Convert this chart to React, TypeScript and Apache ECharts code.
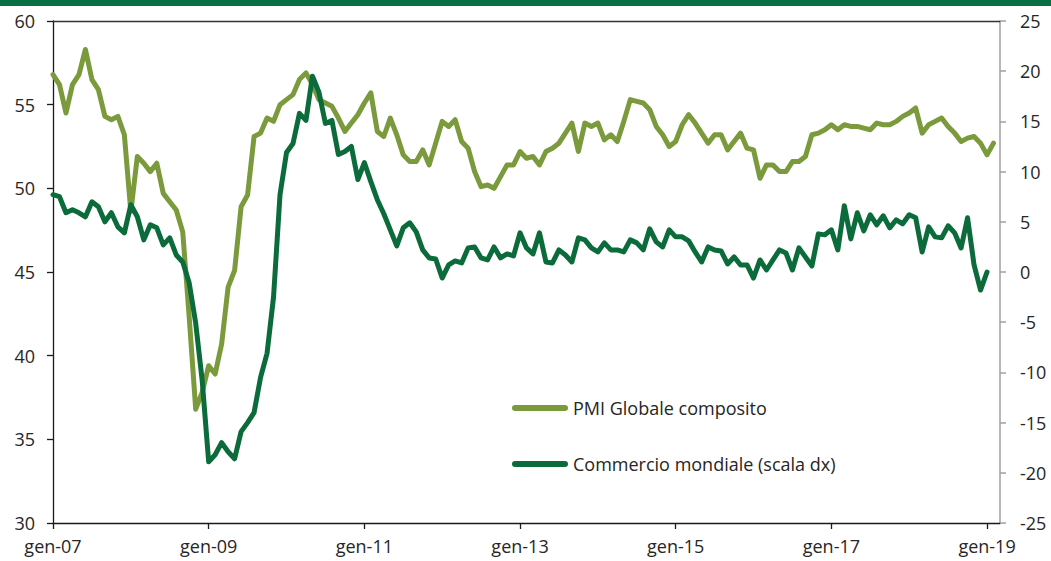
import React, { useEffect, useRef } from "react";
import * as echarts from "echarts";

const monthNames = ["gen", "feb", "mar", "apr", "mag", "giu", "lug", "ago", "set", "ott", "nov", "dic"];
const startYear = 2007;
const monthCount = 147; // gen-07 .. mar-19

const categories: string[] = [];
for (let i = 0; i < monthCount; i++) {
  const y = startYear + Math.floor(i / 12);
  categories.push(monthNames[i % 12] + "-" + String(y % 100).padStart(2, "0"));
}

const seriesNames = ["PMI Globale composito", "Commercio mondiale (scala dx)"];

const pmiComposite = [
  56.8, 56.2, 54.5, 56.2, 56.8, 58.3, 56.5, 55.9, 54.3, 54.1, 54.3, 53.2,
  48.6, 51.9, 51.5, 51.0, 51.5, 49.7, 49.2, 48.7, 47.4, 42.3, 36.8, 37.8,
  39.4, 38.9, 40.7, 44.1, 45.1, 48.9, 49.6, 53.1, 53.3, 54.2, 54.0, 55.0,
  55.3, 55.6, 56.5, 56.9, 56.2, 55.3, 55.1, 54.9, 54.2, 53.4, 53.9, 54.4,
  55.1, 55.7, 53.4, 53.1, 54.2, 53.2, 52.0, 51.6, 51.6, 52.3, 51.4, 52.7,
  54.0, 53.7, 54.1, 52.8, 52.4, 51.0, 50.1, 50.2, 50.0, 50.7, 51.4, 51.4,
  52.2, 51.8, 51.9, 51.4, 52.2, 52.4, 52.7, 53.3, 53.9, 52.2, 53.9, 53.7,
  53.9, 52.9, 53.2, 52.8, 54.0, 55.3, 55.2, 55.1, 54.7, 53.7, 53.2, 52.5,
  52.8, 53.8, 54.4, 53.9, 53.3, 52.7, 53.2, 53.2, 52.3, 52.8, 53.3, 52.4,
  52.3, 50.6, 51.4, 51.4, 51.0, 51.0, 51.6, 51.6, 51.9, 53.2, 53.3, 53.5,
  53.8, 53.5, 53.8, 53.7, 53.7, 53.6, 53.5, 53.9, 53.8, 53.8, 54.0, 54.3,
  54.5, 54.8, 53.3, 53.8, 54.0, 54.2, 53.7, 53.3, 52.8, 53.0, 53.1, 52.7,
  52.0, 52.7,
];

const worldTrade = [
  7.7, 7.5, 5.9, 6.2, 5.9, 5.5, 7.0, 6.5, 5.0, 5.9, 4.5, 3.9,
  6.7, 5.5, 3.2, 4.7, 4.4, 2.7, 3.4, 1.7, 1.0, -1.1, -5.1, -10.8,
  -18.9, -18.2, -17.0, -17.9, -18.6, -15.9, -15.0, -14.0, -10.5, -8.1, -2.5, 7.7,
  11.9, 12.8, 15.8, 15.1, 19.5, 17.9, 14.8, 15.1, 11.7, 12.0, 12.5, 9.2,
  10.9, 9.0, 7.2, 5.8, 4.2, 2.6, 4.4, 4.9, 4.0, 2.2, 1.4, 1.3,
  -0.6, 0.7, 1.1, 0.9, 2.4, 2.5, 1.4, 1.2, 2.5, 1.4, 1.8, 1.6,
  3.9, 2.4, 1.8, 3.9, 1.0, 0.9, 2.2, 1.7, 1.0, 3.4, 3.2, 2.4,
  2.0, 2.9, 2.2, 2.2, 2.0, 3.2, 2.9, 2.2, 4.3, 3.0, 2.5, 4.2,
  3.5, 3.5, 3.1, 2.0, 1.0, 2.5, 2.2, 2.1, 0.8, 1.5, 0.7, 0.7,
  -0.6, 1.2, 0.2, 1.2, 2.2, 1.9, 0.2, 2.4, 1.5, 0.6, 3.8, 3.7,
  4.2, 2.2, 6.6, 3.3, 5.9, 4.1, 5.7, 4.7, 5.6, 4.4, 5.2, 4.8,
  5.7, 5.4, 2.0, 4.5, 3.5, 3.4, 4.6, 3.9, 2.4, 5.4, 0.7, -1.8,
  0.0,
];

const OLIVE = "#7a9a3c";
const DARK = "#0b6b3a";
const FONT = "'Open Sans', 'Noto Sans', sans-serif";
const TEXT = "#262626";

export default function App() {
  const ref = useRef<HTMLDivElement>(null);

  useEffect(() => {
    if (!ref.current) return;
    document.body.style.margin = "0";
    const chart = echarts.init(ref.current, undefined, { renderer: "svg" });
    const everyTwoYears = (idx: number) => idx % 24 === 0;
    const legendIcon = "path://M3 0H53A3 3 0 0 1 53 6H3A3 3 0 0 1 3 0Z";

    chart.setOption({
      animation: false,
      backgroundColor: "#ffffff",
      textStyle: { fontFamily: FONT },
      graphic: [
        {
          type: "rect",
          left: 0,
          top: 0,
          shape: { x: 0, y: 0, width: 1051, height: 6 },
          style: { fill: "#0a6e45" },
          silent: true,
        },
      ],
      grid: { left: 53, right: 51, top: 21, bottom: 38, containLabel: false },
      legend: {
        orient: "vertical",
        left: 507,
        top: 392,
        itemWidth: 56,
        itemHeight: 6,
        itemGap: 34,
        icon: legendIcon,
        textStyle: { fontSize: 18, color: TEXT, fontFamily: FONT, lineHeight: 22 },
        data: [
          { name: seriesNames[0], itemStyle: { color: OLIVE } },
          { name: seriesNames[1], itemStyle: { color: DARK } },
        ],
      },
      xAxis: [
        {
          type: "category",
          data: categories,
          boundaryGap: false,
          position: "bottom",
          axisLine: { show: true, onZero: false, lineStyle: { color: "#1a1a1a", width: 1.3 } },
          axisTick: { show: true, interval: everyTwoYears, length: 6, lineStyle: { color: "#1a1a1a", width: 1.3 } },
          axisLabel: {
            interval: everyTwoYears,
            fontSize: 18,
            color: TEXT,
            fontFamily: FONT,
            margin: 14,
          },
          splitLine: { show: false },
        },
        {
          type: "category",
          data: categories,
          boundaryGap: false,
          position: "top",
          axisLine: { show: true, onZero: false, lineStyle: { color: "#333333", width: 1.3 } },
          axisTick: { show: false },
          axisLabel: { show: false },
          splitLine: { show: false },
        },
      ],
      yAxis: [
        {
          type: "value",
          min: 30,
          max: 60,
          interval: 5,
          position: "left",
          axisLine: { show: true, onZero: false, lineStyle: { color: "#1a1a1a", width: 1.3 } },
          axisTick: { show: true, length: 6, lineStyle: { color: "#1a1a1a", width: 1.3 } },
          axisLabel: { fontSize: 18, color: TEXT, fontFamily: FONT, margin: 18 },
          splitLine: { show: false },
        },
        {
          type: "value",
          min: -25,
          max: 25,
          interval: 5,
          position: "right",
          axisLine: { show: true, onZero: false, lineStyle: { color: "#a0a0a0", width: 1.5 } },
          axisTick: { show: true, length: 6, lineStyle: { color: "#a0a0a0", width: 1.5 } },
          axisLabel: { fontSize: 18, color: TEXT, fontFamily: FONT, margin: 20 },
          splitLine: { show: false },
        },
      ],
      series: [
        {
          name: seriesNames[0],
          type: "line",
          data: pmiComposite,
          xAxisIndex: 0,
          yAxisIndex: 0,
          symbol: "none",
          color: OLIVE,
          lineStyle: { color: OLIVE, width: 5, join: "round", cap: "round" },
          z: 2,
        },
        {
          name: seriesNames[1],
          type: "line",
          data: worldTrade,
          xAxisIndex: 0,
          yAxisIndex: 1,
          symbol: "none",
          color: DARK,
          lineStyle: { color: DARK, width: 5, join: "round", cap: "round" },
          z: 3,
        },
      ],
    });

    return () => {
      chart.dispose();
    };
  }, []);

  return (
    <div
      ref={ref}
      style={{ position: "absolute", left: 0, top: 0, width: 1051, height: 561 }}
    />
  );
}
